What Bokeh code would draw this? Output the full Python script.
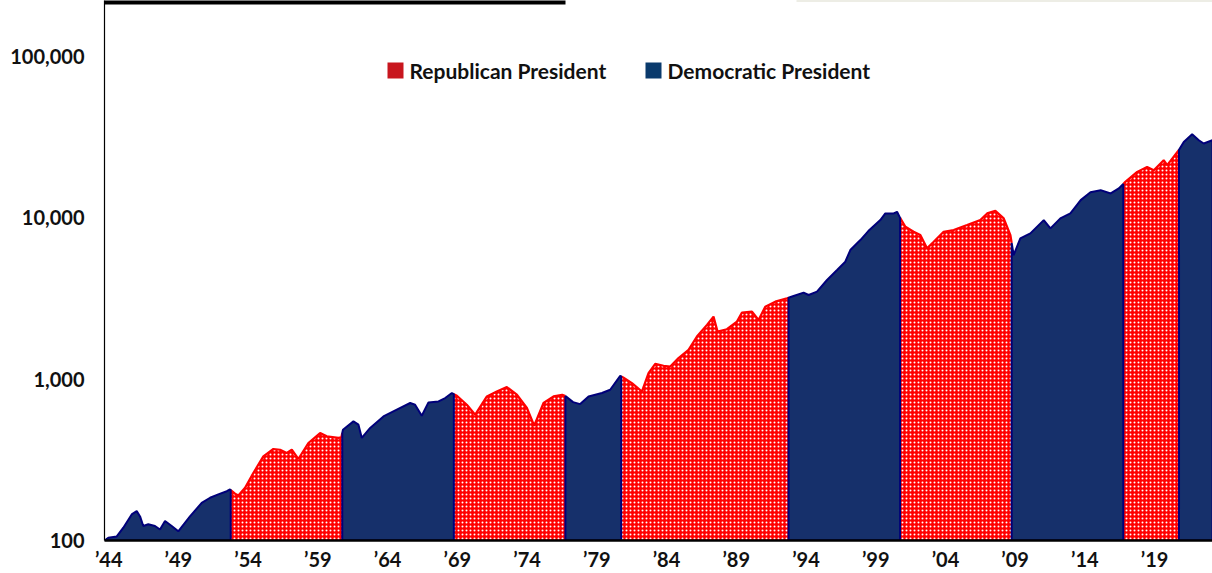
import numpy as np
from bokeh.plotting import figure
from bokeh.models import Range1d, FixedTicker, BoxAnnotation, Label
from bokeh.embed import file_html
from bokeh.resources import INLINE

# ---- data: growth of 100 (log scale) ----
years = [1944.0, 1944.27, 1944.88, 1945.35, 1945.95, 1946.31, 1946.55, 1946.78, 1947.14, 1947.62,
         1947.98, 1948.34, 1948.82, 1949.29, 1950.13, 1950.97, 1951.57, 1952.16, 1952.77, 1953.0,
         1953.36, 1953.6, 1954.08, 1954.67, 1955.39, 1956.11, 1956.59, 1957.07, 1957.43, 1957.9,
         1958.62, 1959.46, 1959.94, 1960.77, 1960.98, 1961.1, 1961.85, 1962.21, 1962.45, 1963.05,
         1964.0, 1964.96, 1965.92, 1966.27, 1966.75, 1967.23, 1967.95, 1968.43, 1968.91, 1969.27,
         1969.98, 1970.58, 1971.42, 1972.13, 1972.85, 1973.57, 1974.29, 1974.81, 1975.48, 1976.2,
         1976.82, 1977.1, 1977.6, 1978.11, 1978.71, 1979.67, 1980.26, 1980.98, 1981.22, 1981.82,
         1982.54, 1983.01, 1983.49, 1984.09, 1984.57, 1985.16, 1985.88, 1986.48, 1987.2, 1987.67,
         1987.96, 1988.63, 1989.35, 1989.71, 1990.43, 1990.9, 1991.38, 1992.1, 1992.94, 1993.41,
         1994.13, 1994.49, 1995.09, 1995.81, 1996.53, 1997.12, 1997.48, 1998.2, 1998.77, 1999.63,
         1999.99, 2000.59, 2000.83, 2001.07, 2001.43, 2002.02, 2002.5, 2002.98, 2003.46, 2004.17,
         2004.89, 2005.85, 2006.8, 2007.29, 2007.88, 2008.48, 2008.96, 2009.19, 2009.67, 2010.39,
         2011.35, 2011.83, 2012.54, 2013.26, 2014.0, 2014.7, 2015.43, 2016.15, 2016.73, 2017.2,
         2018.05, 2018.76, 2019.24, 2019.95, 2020.2, 2021.03, 2021.39, 2021.99, 2022.47, 2022.82,
         2023.45]
values = [100, 104, 106, 120, 145, 152, 141, 123, 126, 123,
          117, 132, 123, 114, 141, 171, 184, 193, 202, 207,
          195, 190, 212, 262, 332, 369, 365, 349, 365, 320,
          402, 463, 442, 432, 435, 486, 547, 522, 432, 498,
          587, 646, 711, 694, 593, 717, 727, 763, 820, 788,
          694, 602, 781, 838, 892, 800, 662, 514, 711, 781,
          800, 781, 720, 700, 781, 820, 859, 1048, 1019, 945,
          838, 1089, 1243, 1209, 1197, 1349, 1518, 1834, 2167, 2439,
          1970, 2038, 2271, 2582, 2618, 2327, 2812, 3019, 3169, 3274,
          3432, 3321, 3481, 4113, 4741, 5339, 6303, 7268, 8264, 9666,
          10631, 10631, 10877, 9901, 8785, 8181, 7806, 6458, 7096, 8181,
          8381, 9000, 9666, 10631, 11031, 9901, 7806, 5871, 7447, 7998,
          9666, 8587, 9901, 10631, 12849, 14390, 14816, 14137, 15181, 16672,
          19229, 20646, 19700, 22714, 21150, 26180, 29470, 32890, 30200, 28810,
          30200]

term_starts = [1944.0, 1953.05, 1961.05, 1969.05, 1977.05, 1981.05, 1993.05,
               2001.05, 2009.05, 2017.05, 2021.05]
term_parties = ["D", "R", "D", "R", "D", "R", "D", "R", "D", "R", "D"]

tick_years = [1944, 1949, 1954, 1959, 1964, 1969, 1974, 1979, 1984, 1989,
              1994, 1999, 2004, 2009, 2014, 2019]
tick_labels = ["’44", "’49", "’54", "’59", "’64", "’69", "’74", "’79", "’84", "’89",
               "’94", "’99", "’04", "’09", "’14", "’19"]
y_ticks = [100, 1000, 10000, 100000]
y_tick_labels = ["100", "1,000", "10,000", "100,000"]

legend_labels = ["Republican President", "Democratic President"]

# ---- styling ----
FONT = "Lato"
RED = "#ff0000"
BLUE_FILL = "#16306b"
BLUE_LINE = "#00007a"
LEG_RED = "#c8161e"
LEG_BLUE = "#0a3a6c"

yrs = np.array(years, dtype=float)
logv = np.log10(np.array(values, dtype=float))

def val_at(t):
    return 10 ** np.interp(t, yrs, logv)

W, H = 1212, 573
ML, MB = 104, 32
p = figure(width=W, height=H,
           x_range=Range1d(1944.0, 2023.45), y_range=Range1d(100, 221700),
           y_axis_type="log", output_backend="svg", toolbar_location=None,
           min_border_left=ML, min_border_right=0, min_border_top=0, min_border_bottom=MB)
p.outline_line_color = None
p.grid.visible = False
p.background_fill_color = "white"
p.border_fill_color = "white"

term_ends = term_starts[1:] + [years[-1]]
for party in ["R", "D"]:
    for s, e, pt in zip(term_starts, term_ends, term_parties):
        if pt != party:
            continue
        inner = [(t, v) for t, v in zip(years, values) if s < t < e]
        xs = [s] + [t for t, _ in inner] + [e]
        ys = [val_at(s)] + [v for _, v in inner] + [val_at(e)]
        px = xs + [e, s]
        py = ys + [100, 100]
        if party == "R":
            p.patch(px, py, fill_color=RED, line_color=None,
                    hatch_pattern="dot", hatch_color="white", hatch_scale=4, hatch_weight=1)
            p.line(xs, ys, line_color=RED, line_width=2.2)
        else:
            p.patch(px, py, fill_color=BLUE_FILL, line_color=BLUE_LINE, line_width=2)

# axes
p.xaxis.ticker = FixedTicker(ticks=[t + 0.3 for t in tick_years])
p.xaxis.major_label_overrides = {t + 0.3: lab for t, lab in zip(tick_years, tick_labels)}
p.yaxis.ticker = FixedTicker(ticks=y_ticks)
p.yaxis.major_label_overrides = {t: lab for t, lab in zip(y_ticks, y_tick_labels)}
for ax in (p.xaxis, p.yaxis):
    ax.major_tick_line_color = None
    ax.minor_tick_line_color = None
    ax.major_tick_out = 0
    ax.major_tick_in = 0
    ax.axis_line_color = "black"
    ax.major_label_text_font = FONT
    ax.major_label_text_font_style = "bold"
    ax.major_label_text_font_size = "20px"
    ax.major_label_text_color = "#111111"
p.xaxis.axis_line_width = 2.5
p.yaxis.axis_line_width = 1.2
p.xaxis.major_label_standoff = 6
p.yaxis.major_label_standoff = 20

# legend: coloured squares + real text labels (screen units relative to the plot frame)
frame_h = H - MB
def sq(left_px, top_px, size, color):
    p.add_layout(BoxAnnotation(left=left_px - ML, right=left_px - ML + size,
                               top=frame_h - top_px, bottom=frame_h - top_px - size,
                               left_units="screen", right_units="screen",
                               top_units="screen", bottom_units="screen",
                               fill_color=color, fill_alpha=1, line_color=None))

for lab, col, x0 in zip(legend_labels, [LEG_RED, LEG_BLUE], [387, 645]):
    sq(x0, 63, 16, col)
    p.add_layout(Label(x=x0 + 22 - ML, y=frame_h - 71, x_units="screen", y_units="screen",
                       text=lab, text_font=FONT, text_font_style="bold", text_font_size="21px",
                       text_color="#111111", text_baseline="middle", text_align="left"))

# page decorations at the top
p.add_layout(BoxAnnotation(left=-ML, right=565 - ML, top=frame_h, bottom=frame_h - 5,
                           left_units="screen", right_units="screen",
                           top_units="screen", bottom_units="screen",
                           fill_color="black", fill_alpha=1, line_color=None))
p.add_layout(BoxAnnotation(left=796 - ML, right=W - ML, top=frame_h, bottom=frame_h - 2,
                           left_units="screen", right_units="screen",
                           top_units="screen", bottom_units="screen",
                           fill_color="#dcdccb", fill_alpha=1, line_color=None))

open("out.html", "w").write(file_html(p, INLINE))
